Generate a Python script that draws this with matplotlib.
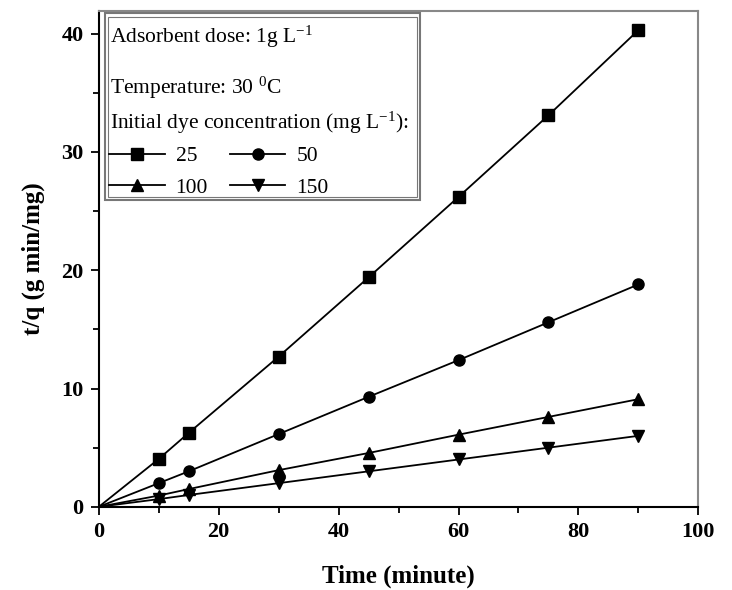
import matplotlib
matplotlib.use("Agg")
import matplotlib.pyplot as plt
from matplotlib.patches import Rectangle
from matplotlib.ticker import MultipleLocator

plt.rcParams['font.family'] = ['Liberation Serif', 'DejaVu Serif']
plt.rcParams['mathtext.fontset'] = 'custom'
plt.rcParams['mathtext.rm'] = 'Liberation Serif'
plt.rcParams['mathtext.it'] = 'Liberation Serif:italic'
plt.rcParams['mathtext.bf'] = 'Liberation Serif:bold'

# Pseudo-second-order kinetics: t/q versus contact time
time_min = [0, 10, 15, 30, 45, 60, 75, 90]
tq_25 = [0, 4.05, 6.25, 12.7, 19.4, 26.2, 33.1, 40.3]
tq_50 = [0, 2.0, 3.0, 6.15, 9.3, 12.4, 15.6, 18.8]
tq_100 = [0, 0.95, 1.5, 3.1, 4.55, 6.1, 7.6, 9.1]
tq_150 = [0, 0.65, 1.0, 2.0, 3.0, 4.0, 5.0, 6.0]

series = [tq_25, tq_50, tq_100, tq_150]
labels = ['25', '50', '100', '150']
markers = ['s', 'o', '^', 'v']

fig = plt.figure(figsize=(7.32, 5.90), dpi=100)
ax = fig.add_axes([0.135, 0.141, 0.819, 0.840])

handles = {}
for vals, lab, mk in zip(series, labels, markers):
    h, = ax.plot(time_min, vals, color='black', lw=1.3, marker=mk,
                 markersize=8, markevery=list(range(1, len(time_min))),
                 label=lab)
    handles[lab] = h

ax.set_xlim(0, 100)
ax.set_ylim(0, 41.9)
ax.xaxis.set_major_locator(MultipleLocator(20))
ax.xaxis.set_minor_locator(MultipleLocator(10))
ax.yaxis.set_major_locator(MultipleLocator(10))
ax.yaxis.set_minor_locator(MultipleLocator(5))
ax.tick_params(which='both', direction='out', top=False, right=False,
               width=1.3, color='black')
ax.tick_params(which='major', length=6, labelsize=16, pad=5)
ax.tick_params(which='minor', length=4)
for lbl in ax.get_xticklabels() + ax.get_yticklabels():
    lbl.set_fontweight('bold')

for side in ['left', 'bottom']:
    ax.spines[side].set_linewidth(1.5)
    ax.spines[side].set_color('black')
for side in ['top', 'right']:
    ax.spines[side].set_linewidth(1.5)
    ax.spines[side].set_color('#888888')

ax.set_xlabel('Time (minute)', fontsize=18, fontweight='bold', labelpad=16)
ax.set_ylabel('t/q (g min/mg)', fontsize=18, fontweight='bold', labelpad=12)

# Boxed key with experimental conditions
for (x0, y0, x1, y1), lw in [((0.010, 0.619, 0.536, 0.996), 1.5),
                             ((0.016, 0.626, 0.530, 0.989), 0.8)]:
    ax.add_patch(Rectangle((x0, y0), x1 - x0, y1 - y0, transform=ax.transAxes,
                           fill=False, edgecolor='#777777', lw=lw, zorder=5))

fs = 15.5
ax.text(0.018, 0.948, r'Adsorbent dose: 1g L$^{\mathregular{-1}}$',
        transform=ax.transAxes, fontsize=fs, va='center')
ax.text(0.018, 0.845, r'Temperature: 30 $^{\mathregular{0}}$C',
        transform=ax.transAxes, fontsize=fs, va='center')
ax.text(0.018, 0.774, r'Initial dye concentration (mg L$^{\mathregular{-1}}$):',
        transform=ax.transAxes, fontsize=fs, va='center')

# two columns filled column-wise: rows read 25/50 then 100/150
order = ['25', '100', '50', '150']
leg = ax.legend(handles=[handles[k] for k in order], labels=order, ncol=2,
                frameon=False, fontsize=fs, loc='upper left',
                bbox_to_anchor=(0.006, 0.741),
                handlelength=2.6, handletextpad=0.5, columnspacing=1.0,
                labelspacing=0.55, borderaxespad=0.0, borderpad=0.3)

fig.savefig('out.png', dpi=100, facecolor='white')
